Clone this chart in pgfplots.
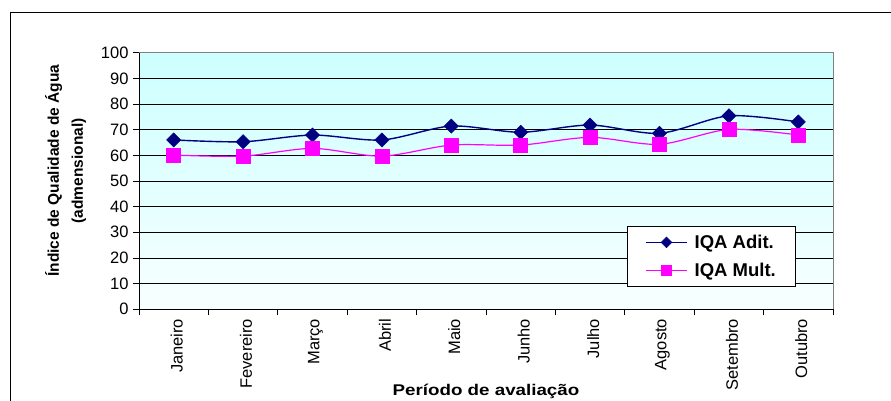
\documentclass[border=0pt]{standalone}
\usepackage{pgfplots}
\pgfplotsset{compat=1.18}
\usepackage{fontspec}
\usepackage{graphicx}
\setmainfont{Liberation Sans}

\definecolor{adit}{RGB}{0,0,128}
\definecolor{mult}{RGB}{255,0,255}
\definecolor{bgtop}{RGB}{204,255,255}
\definecolor{bgbot}{RGB}{248,255,255}

\begin{document}
\begin{tikzpicture}
\useasboundingbox (0pt,0pt) rectangle (891pt,401pt);
% outer chart frame
\draw[line width=1pt] (10.7pt,-20pt) -- (10.7pt,388.7pt) -- (920pt,388.7pt);

\begin{axis}[
  at={(139pt,91.7pt)}, anchor=south west,
  scale only axis, width=694pt, height=256.6pt,
  xmin=-0.5, xmax=9.5, ymin=0, ymax=100,
  axis x line*=bottom, axis y line*=left,
  axis line style={black, line width=0.8pt},
  axis background/.style={top color=bgtop, bottom color=bgbot},
  ytick={0,10,...,100},
  ymajorgrids, grid style={black, line width=0.6pt},
  xtick={0,...,9},
  xticklabels={Janeiro,Fevereiro,Março,Abril,Maio,Junho,Julho,Agosto,Setembro,Outubro},
  minor xtick={-0.5,0.5,...,9.5},
  major x tick style={draw=none},
  tick align=outside,
  major tick length=6pt, minor tick length=6pt,
  tick style={black, line width=0.8pt},
  /pgf/number format/assume math mode=true,
  yticklabel style={font=\fontsize{16.5}{18}\selectfont, xshift=-1pt},
  xticklabel style={font=\fontsize{16.5}{18}\selectfont, rotate=90, anchor=east, yshift=-3pt},
  xlabel={\scalebox{1.21}[1]{\bfseries Período de avaliação}},
  xlabel style={font=\fontsize{15.5}{18}\selectfont, at={(0.5,0)}, anchor=base, yshift=-86.5pt},
  ylabel={\bfseries Índice de Qualidade de Água\\[6pt]\bfseries (admensional)},
  ylabel style={font=\fontsize{15.5}{18}\selectfont, align=center, at={(0,0.54)}, anchor=center, yshift=73.5pt},
  legend style={at={(0.703,0.3246)}, anchor=north west, draw=black, line width=0.8pt,
    fill=white, font=\fontsize{18.5}{20}\selectfont\bfseries,
    inner xsep=18pt, inner ysep=8.5pt, row sep=13pt,
    nodes={inner ysep=0pt},
    /tikz/every odd column/.append style={column sep=5pt}},
  legend cell align=left,
  legend image code/.code={\draw[mark repeat=2,mark phase=2,every mark/.append style={scale=0.75}]
    plot coordinates {(0pt,0pt) (20.5pt,0pt) (41pt,0pt)};},
  after end axis/.code={\draw[gray, line width=1pt] (rel axis cs:0,1) -- (rel axis cs:1,1) -- (rel axis cs:1,0);},
]
\addplot[adit, line width=1.4pt, smooth, mark=square*, mark size=5pt,
  mark options={rotate=45, solid, fill=adit, line width=0.5pt}]
  coordinates {(0,66.0) (1,65.3) (2,67.9) (3,66.0) (4,71.4) (5,69.0) (6,71.8) (7,68.6) (8,75.4) (9,73.0)};
\addlegendentry{IQA Adit.}
\addplot[mult, line width=1.2pt, smooth, mark=square*, mark size=7pt,
  mark options={solid, fill=mult, line width=0.5pt}]
  coordinates {(0,60.1) (1,59.7) (2,62.7) (3,59.7) (4,64.0) (5,64.0) (6,67.0) (7,64.3) (8,70.1) (9,67.9)};
\addlegendentry{IQA Mult.}
\end{axis}
\end{tikzpicture}
\end{document}
